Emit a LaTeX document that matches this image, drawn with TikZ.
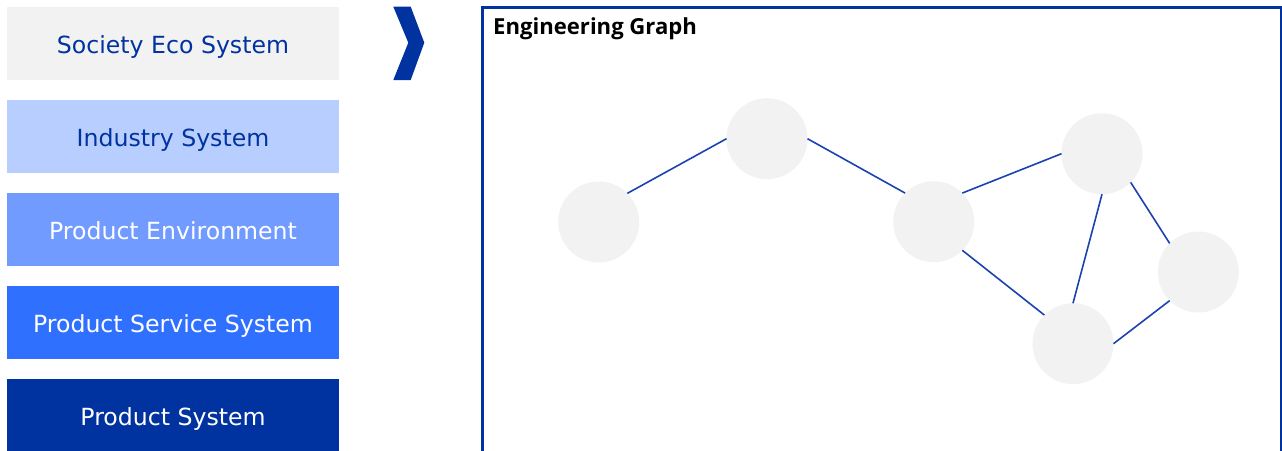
\documentclass[tikz,border=0pt]{standalone}
\usepackage{fontspec}
\setmainfont{DejaVu Sans}
\newfontfamily\titlefont{Open Sans}[BoldFont={Open Sans Bold}]
\definecolor{darkblue}{RGB}{0,51,160}
\definecolor{lightgray}{RGB}{242,242,242}
\definecolor{blueA}{RGB}{184,206,255}
\definecolor{blueB}{RGB}{114,155,255}
\definecolor{blueC}{RGB}{48,112,255}
\definecolor{edgeblue}{RGB}{28,66,176}
\begin{document}
\begin{tikzpicture}[x=1pt,y=-1pt,
  layerbox/.style={rectangle, minimum width=332pt, minimum height=73pt, inner sep=0pt, outer sep=0pt, anchor=north west, text height=19pt, text depth=0pt, font=\fontsize{23.6}{26}\selectfont},
  gnode/.style={circle, fill=lightgray, minimum size=81pt, inner sep=0pt, outer sep=0pt},
  gedge/.style={draw=edgeblue, line width=1.6pt}]
\useasboundingbox (0,0) rectangle (1282,450);
\clip (0,0) rectangle (1282,450);
% layer boxes
\node[layerbox, fill=lightgray, text=darkblue] (l1) at (7,7) {Society Eco System};
\node[layerbox, fill=blueA, text=darkblue] (l2) at (7,100) {Industry System};
\node[layerbox, fill=blueB, text=white] (l3) at (7,193) {Product Environment};
\node[layerbox, fill=blueC, text=white] (l4) at (7,286) {Product Service System};
\node[layerbox, fill=darkblue, text=white] (l5) at (7,379) {Product System};
% chevron
\fill[darkblue] (393.3,6.7) -- (410.7,6.7) -- (424.3,42.7) -- (410.7,80) -- (393.3,80) -- (408.3,42.7) -- cycle;
% frame
\draw[darkblue, line width=3pt] (482,7) rectangle (1281,470);
\node[anchor=base west, inner sep=0pt, font=\titlefont\bfseries\fontsize{22.1}{25}\selectfont] (title) at (493,34.3) {Engineering Graph};
% graph nodes
\node[gnode] (a) at (598.7,222) {};
\node[gnode] (b) at (767,138.7) {};
\node[gnode] (c) at (933.7,221.7) {};
\node[gnode] (d) at (1102,153.7) {};
\node[gnode] (e) at (1198.3,272) {};
\node[gnode] (f) at (1073,343.7) {};
\draw[gedge] (a.north east) -- (b.west);
\draw[gedge] (b.east) -- (c.north west);
\draw[gedge] (c.north east) -- (d.west);
\draw[gedge] (c.south east) -- (f.north west);
\draw[gedge] (d.south) -- (f.north);
\draw[gedge] (d.south east) -- (e.north west);
\draw[gedge] (e.south west) -- (f.east);
\end{tikzpicture}
\end{document}
